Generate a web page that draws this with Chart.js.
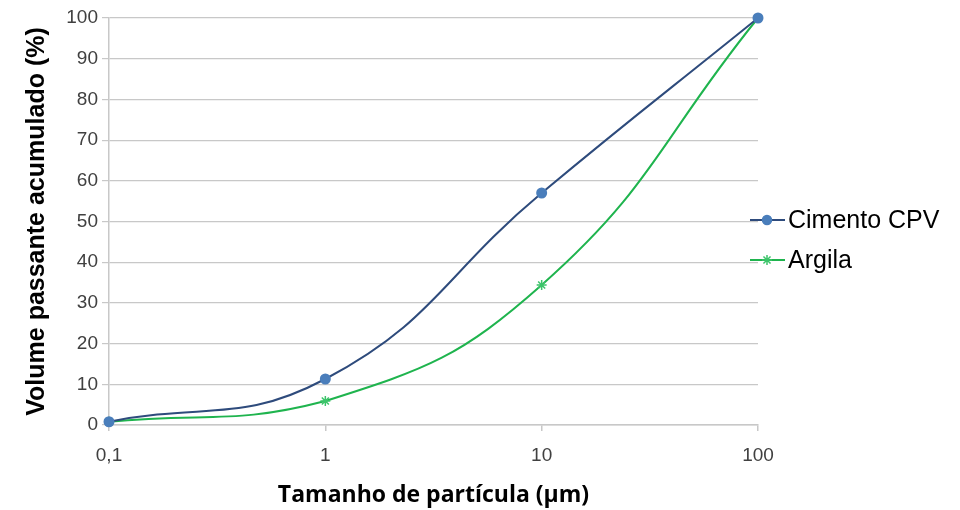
<!DOCTYPE html>
<html>
<head>
<meta charset="utf-8">
<script src="https://cdn.jsdelivr.net/npm/chart.js@4/dist/chart.umd.min.js"></script>
<style>
	html, body { margin: 0; padding: 0; background: #fff; }
	#wrap { width: 960px; height: 510px; position: relative; }
</style>
</head>
<body>
<div id="wrap"><canvas id="chart"></canvas></div>
<script>
// Particle size (µm), log axis.
const sizes = [0.1, 1, 10, 100]
const cimento = [0.8, 11.3, 57, 100]
const argila = [0.8, 5.9, 34.4, 100]

const seriesNames = ['Cimento CPV', 'Argila']
const xTicks = [0.1, 1, 10, 100]
const xTickLabels = ['0,1', '1', '10', '100']

const font = '"Liberation Sans", Arial, sans-serif'
const titleFont = '"Open Sans", "Liberation Sans", sans-serif'
const gridColor = '#c8c8c8'
const textColor = '#404040'

const blueLine = '#2e4b7c'
const blueMarker = '#4a7ebb'
const greenLine = '#1fb44e'
const greenMarker = '#3cc46a'

const toPoints = values => values.map((y, i) => ({ x: sizes[i], y }))

// Legend drawn by hand so the plot area keeps its place.
const sideLegend = {
	id: 'sideLegend',
	afterDraw(chart) {
		const { ctx } = chart
		const rows = [
			{ label: seriesNames[0], line: blueLine, marker: blueMarker, style: 'circle', r: 4.5, y: 220 },
			{ label: seriesNames[1], line: greenLine, marker: greenMarker, style: 'star', r: 5, y: 260 },
		]
		ctx.save()
		rows.forEach(row => {
			ctx.strokeStyle = row.line
			ctx.lineWidth = 2
			ctx.beginPath()
			ctx.moveTo(750, row.y)
			ctx.lineTo(785, row.y)
			ctx.stroke()
			ctx.fillStyle = row.marker
			ctx.strokeStyle = row.marker
			ctx.lineWidth = 1.5
			Chart.helpers.drawPoint(ctx, {
				pointStyle: row.style,
				radius: row.r,
				borderWidth: 1.5,
			}, 767, row.y)
			ctx.fillStyle = '#000'
			ctx.font = `25px ${font}`
			ctx.textBaseline = 'middle'
			ctx.fillText(row.label, 788, row.y + 1)
		})
		ctx.restore()
	},
}

new Chart(document.getElementById('chart'), {
	type: 'line',
	data: {
		datasets: [
			{
				label: seriesNames[0],
				data: toPoints(cimento),
				borderColor: blueLine,
				borderWidth: 2,
				backgroundColor: blueMarker,
				pointBackgroundColor: blueMarker,
				pointBorderColor: blueMarker,
				pointStyle: 'circle',
				pointRadius: 4.5,
				tension: 0.45,
			},
			{
				label: seriesNames[1],
				data: toPoints(argila),
				borderColor: greenLine,
				borderWidth: 2,
				backgroundColor: greenMarker,
				pointBackgroundColor: greenMarker,
				pointBorderColor: greenMarker,
				pointBorderWidth: 1.5,
				pointStyle: 'star',
				pointRadius: 5,
				tension: 0.45,
			},
		],
	},
	options: {
		responsive: true,
		maintainAspectRatio: false,
		animation: false,
		clip: false,
		layout: { padding: { left: 0, right: 202, top: 18, bottom: 0 } },
		plugins: {
			legend: { display: false },
			tooltip: { enabled: false },
		},
		scales: {
			x: {
				type: 'logarithmic',
				min: 0.1,
				max: 100,
				afterBuildTicks: scale => {
					scale.ticks = xTicks.map(value => ({ value }))
				},
				afterFit: scale => { scale.height = 85 },
				grid: {
					drawOnChartArea: false,
					drawTicks: true,
					tickLength: 6,
					color: gridColor,
					lineWidth: 1.5,
				},
				border: { display: true, color: gridColor, width: 1.5 },
				ticks: {
					autoSkip: false,
					maxRotation: 0,
					color: textColor,
					font: { family: font, size: 19 },
					padding: 13,
					callback: (value, index) => xTickLabels[index],
				},
				title: {
					display: true,
					text: 'Tamanho de partícula (µm)',
					color: '#000',
					font: { family: titleFont, size: 23, weight: 'bold' },
					padding: { top: 0, bottom: 1 },
				},
			},
			y: {
				min: 0,
				max: 100,
				afterFit: scale => { scale.width = 109 },
				grid: {
					color: gridColor,
					lineWidth: 1.2,
					drawTicks: true,
					tickLength: 7,
				},
				border: { display: true, color: gridColor, width: 1.5 },
				ticks: {
					stepSize: 10,
					color: textColor,
					font: { family: font, size: 19 },
					padding: 4,
				},
				title: {
					display: true,
					text: 'Volume passante acumulado (%)',
					color: '#000',
					font: { family: font, size: 25, weight: 'bold' },
					padding: { top: 22, bottom: 0 },
				},
			},
		},
	},
	plugins: [sideLegend],
})
</script>
</body>
</html>
